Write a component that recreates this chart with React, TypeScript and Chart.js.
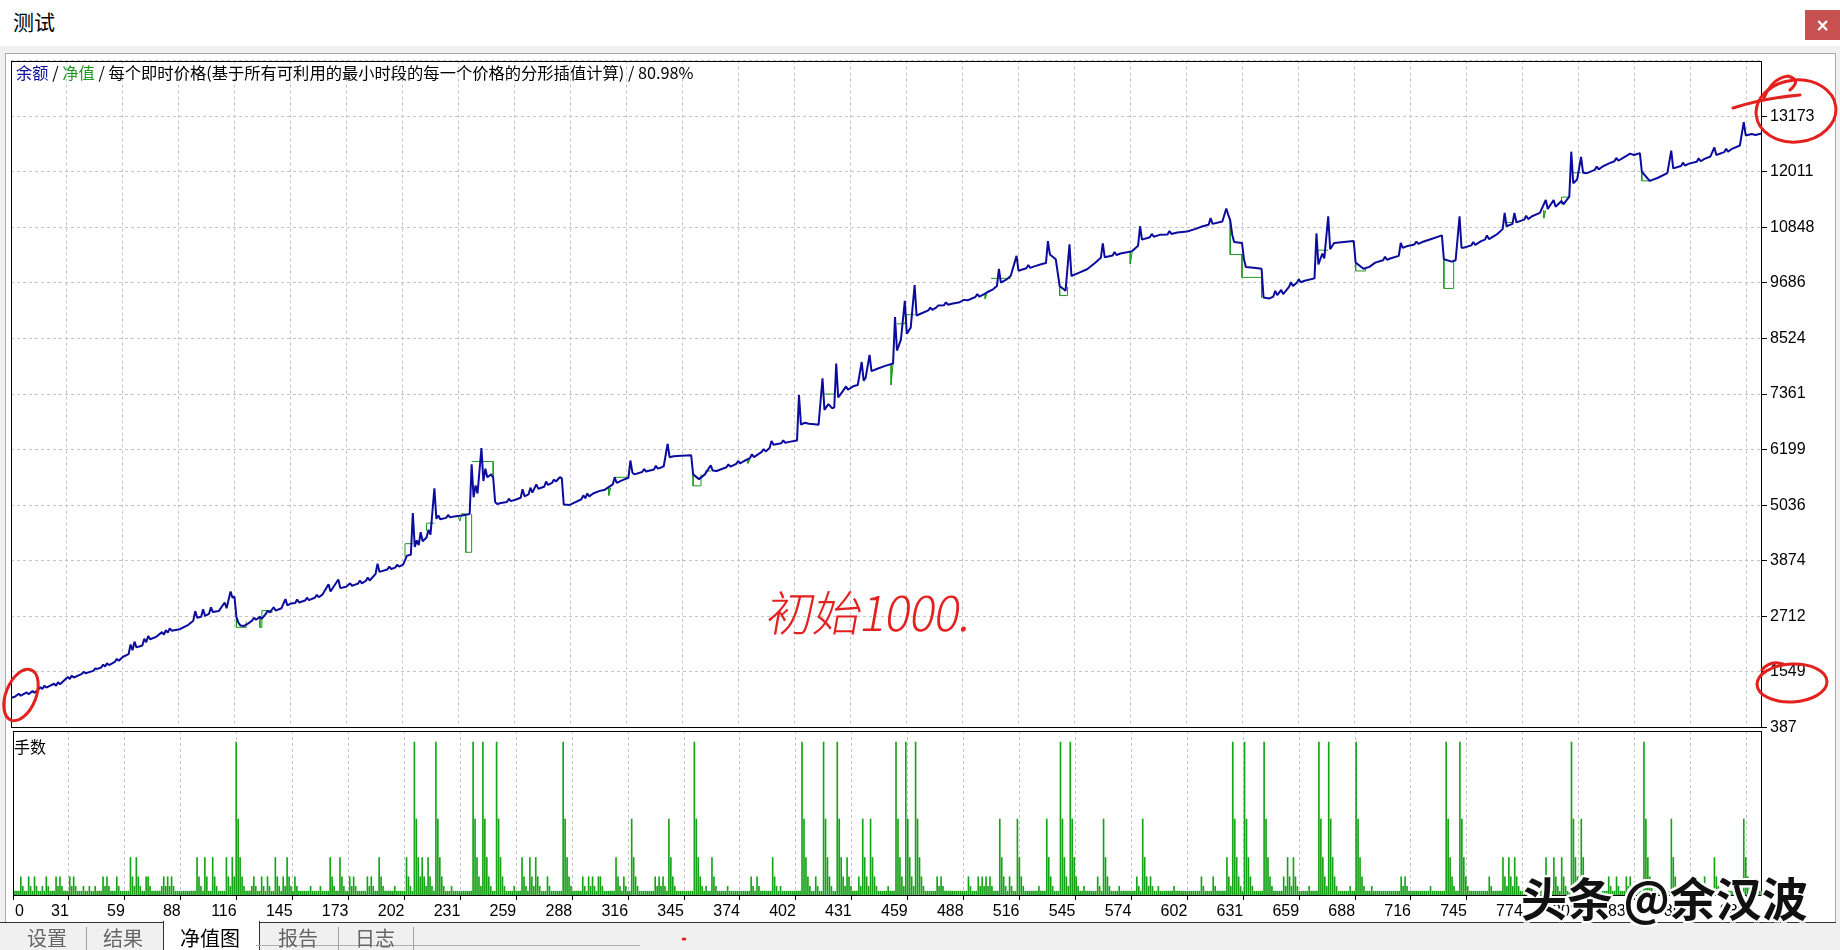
import React, { useEffect, useRef } from "react";
import { Chart, registerables } from "chart.js";

Chart.register(...registerables);

// ---------------- data ----------------
const xTickLabels = ["0", "31", "59", "88", "116", "145", "173", "202", "231", "259", "288", "316", "345", "374", "402", "431", "459", "488", "516", "545", "574", "602", "631", "659", "688", "716", "745", "774", "802", "831", "859", "888"];
const yTickLabels = ["387", "1549", "2712", "3874", "5036", "6199", "7361", "8524", "9686", "10848", "12011", "13173"];

// balance (余额) : [trade index, value]
const balanceA: [number, number][] = [
  [0, 1009], [2, 1030], [4, 1090], [5, 1050], [8, 1120], [9, 1080], [11, 1150], [12, 1110], [14, 1180], [15, 1230], [16, 1190], [17, 1260], [18, 1220], [22, 1300], [23, 1260], [24, 1330], [25, 1290], [29, 1440], [30, 1400], [31, 1470], [32, 1430], [36, 1500], [37, 1550], [38, 1520], [42, 1570], [43, 1620], [44, 1610], [46, 1640], [47, 1700], [48, 1660], [49, 1730], [50, 1690], [53, 1760], [54, 1820], [55, 1780], [57, 1860], [60, 1920], [61, 2120], [62, 2000], [63, 2180], [64, 2060], [67, 2100], [68, 2240], [69, 2170], [70, 2300], [71, 2230], [74, 2280], [77, 2380], [78, 2330], [79, 2420], [80, 2370], [81, 2460], [82, 2410], [86, 2440], [90, 2520], [93, 2620], [94, 2820], [95, 2680], [97, 2700], [98, 2860], [99, 2720], [101, 2760], [102, 2900], [103, 2800], [106, 2820], [109, 3000], [110, 2880], [112, 3230], [113, 3100], [114, 3120], [115, 2700], [116, 2580], [117, 2520], [119, 2510], [121, 2560], [123, 2620], [124, 2680], [125, 2640], [127, 2700], [128, 2660], [130, 2760], [131, 2830], [132, 2790], [134, 2900], [135, 2830], [138, 2880], [140, 3070], [141, 2940], [143, 2980], [145, 2990], [146, 3060], [147, 3000], [150, 3040], [151, 3100], [152, 3050], [155, 3100], [156, 3160], [157, 3110], [159, 3170], [162, 3380], [163, 3230], [167, 3480], [168, 3300], [171, 3330], [173, 3400], [174, 3350], [176, 3380], [177, 3390], [178, 3460], [179, 3400], [181, 3450], [182, 3520], [183, 3460], [186, 3600], [187, 3810], [188, 3640], [192, 3690], [193, 3750], [194, 3700], [196, 3730], [197, 3790], [198, 3750], [200, 3790],
];
const balanceB: [number, number][] = [
  [201, 3880], [202, 3980], [204, 4000], [205, 4870], [206, 4160], [207, 4300], [208, 4200], [209, 4470], [210, 4280], [212, 4360], [213, 4520], [214, 4420], [216, 5390], [217, 4750], [218, 4820], [219, 4740], [222, 4770], [223, 4830], [224, 4780], [226, 4800], [230, 4820], [234, 4850], [235, 5890], [236, 5200], [237, 5450], [238, 5280], [240, 6230], [241, 5540], [242, 5800], [243, 5620], [245, 5680], [246, 5610], [247, 5100], [248, 5060], [250, 5080], [253, 5100], [254, 5170], [255, 5120], [258, 5160], [260, 5190], [261, 5370], [262, 5220], [264, 5260], [265, 5400], [266, 5300], [268, 5470], [269, 5380], [272, 5420], [273, 5530], [274, 5460], [276, 5500], [277, 5570], [278, 5530], [280, 5620], [281, 5600], [282, 5050], [285, 5040], [288, 5100], [291, 5160], [292, 5240], [293, 5180], [294, 5280], [295, 5220], [297, 5280], [300, 5330],
];
const balanceC: [number, number][] = [
  [303, 5360], [307, 5470], [308, 5620], [309, 5500], [312, 5560], [315, 5610], [316, 5970], [317, 5720], [318, 5680], [322, 5730], [323, 5790], [324, 5740], [326, 5760], [328, 5780], [329, 5860], [330, 5800], [332, 5830], [333, 5850], [335, 6320], [336, 6040], [338, 6060], [342, 6070], [347, 6080], [348, 5680], [351, 5580], [354, 5680], [357, 5870], [358, 5760], [360, 5750], [365, 5830], [366, 5890], [367, 5840], [370, 5900], [371, 5960], [372, 5910], [374, 5960], [377, 6020], [378, 6100], [379, 6040], [383, 6150], [384, 6210], [385, 6160], [387, 6230], [388, 6380], [389, 6300], [393, 6330], [394, 6390], [395, 6340], [397, 6360], [401, 6390], [402, 7340], [403, 6720], [405, 6760], [407, 6740], [410, 6730], [412, 6720], [414, 7690], [415, 7030], [417, 7150], [419, 7060], [420, 7080], [421, 8000], [422, 7290], [424, 7400], [426, 7520], [427, 7450], [430, 7530], [432, 7550], [434, 8030], [435, 7640], [436, 7700], [438, 8180], [439, 7840], [442, 7890], [446, 7950], [450, 8000], [451, 8970], [452, 8270], [454, 8500], [456, 9310], [457, 8620], [459, 8750], [461, 9640], [462, 9000], [464, 9040], [468, 9110], [469, 9170], [470, 9120], [472, 9170], [473, 9210], [476, 9220], [477, 9280], [478, 9230], [480, 9250], [484, 9280], [486, 9330], [488, 9320], [492, 9390], [493, 9450], [494, 9400], [496, 9440], [498, 9490], [501, 9550], [503, 9620], [504, 9980], [505, 9690], [508, 9760], [510, 9830], [513, 10250], [514, 9940], [518, 9990], [519, 10060], [520, 10000], [522, 10030], [526, 10080], [528, 10100], [529, 10560], [530, 10280], [533, 10180], [535, 9620], [538, 9520], [540, 10490], [541, 9830], [545, 9900], [549, 9970], [553, 10100], [556, 10210], [557, 10510], [558, 10220], [562, 10260], [563, 10330], [564, 10270], [566, 10300], [570, 10330], [572, 10350], [575, 10460], [576, 10870], [577, 10590], [581, 10640], [582, 10710], [583, 10650], [586, 10690], [590, 10700], [591, 10770], [592, 10710], [595, 10740], [600, 10760],
];
const balanceD: [number, number][] = [
  [604, 10810], [608, 10870], [611, 10900], [612, 11040], [613, 10920], [618, 10970], [620, 11240], [621, 11110], [622, 11000], [623, 10700], [624, 10540], [628, 10520], [629, 10180], [630, 10020], [634, 10000], [638, 9980], [639, 9380], [642, 9360], [644, 9400], [645, 9520], [646, 9430], [648, 9540], [649, 9450], [652, 9600], [653, 9700], [654, 9620], [656, 9690], [657, 9760], [658, 9700], [660, 9730], [665, 9780], [666, 10720], [667, 10070], [669, 10300], [670, 10200], [672, 11080], [673, 10390], [675, 10520], [680, 10540], [685, 10560], [686, 10110], [690, 9980], [693, 10020], [696, 10110], [700, 10160], [701, 10230], [702, 10170], [704, 10200], [708, 10250], [709, 10520], [710, 10420], [712, 10450], [716, 10490], [717, 10550], [718, 10500], [720, 10540], [725, 10610], [730, 10680], [731, 10180], [735, 10130], [737, 10160], [739, 11080], [740, 10420], [741, 10420], [745, 10470], [746, 10540], [747, 10480], [750, 10560], [752, 10590], [753, 10680], [754, 10600], [758, 10700], [761, 10810], [762, 11150], [763, 10870], [766, 10920], [767, 11150], [768, 10950], [772, 11010], [773, 11090], [774, 11020], [776, 11080], [780, 11150], [783, 11420], [784, 11230], [787, 11420], [788, 11280], [791, 11400], [792, 11330], [795, 11490], [796, 12430], [797, 11770], [799, 11850], [801, 12320], [802, 11990], [804, 11980], [808, 12050], [809, 12120], [810, 12060], [812, 12120], [815, 12180], [818, 12230], [819, 12300], [820, 12240], [822, 12290], [826, 12390], [828, 12360], [831, 12400], [832, 12010], [836, 11820], [840, 11880], [845, 11980], [847, 12450], [848, 12080], [852, 12130], [853, 12200], [854, 12140], [856, 12180], [860, 12220], [861, 12290], [862, 12230], [864, 12280], [867, 12330], [869, 12520], [870, 12360], [874, 12420], [875, 12490], [876, 12430], [878, 12490], [882, 12560], [884, 13050], [885, 12770], [888, 12800], [890, 12780], [893, 12810],
];

// equity (净值): only the stretches where it departs from the balance
const equitySegments: [number, number][][] = [
  [[115, 2720], [115, 2480], [120, 2480], [120, 2600]],
  [[127, 2690], [127, 2480], [128, 2480], [128, 2660]],
  [[128, 2700], [128, 2830], [133, 2830], [133, 2790]],
  [[201, 3950], [201, 4230], [205, 4230]],
  [[212, 4500], [212, 4660], [216, 4660]],
  [[228, 4830], [229, 4700], [230, 4860], [232, 4850], [232, 4050], [235, 4050], [235, 4850]],
  [[235, 5950], [246, 5950], [246, 5610]],
  [[305, 5400], [305, 5240], [306, 5400]],
  [[308, 5620], [315, 5620]],
  [[348, 5680], [348, 5440], [352, 5440], [352, 5680]],
  [[354, 5750], [357, 5750]],
  [[376, 5990], [376, 5910], [377, 6000]],
  [[415, 7360], [420, 7360]],
  [[449, 7990], [449, 7550], [450, 7990]],
  [[452, 8830], [456, 8830], [457, 9020], [461, 9020]],
  [[497, 9470], [497, 9350], [498, 9480]],
  [[500, 9780], [510, 9780]],
  [[535, 9620], [535, 9420], [539, 9420], [539, 9600]],
  [[571, 10340], [571, 10080], [572, 10340]],
  [[622, 11000], [622, 10280], [628, 10280], [628, 9800], [638, 9800], [638, 9380]],
  [[666, 10370], [672, 10370]],
  [[686, 10110], [686, 9935], [691, 9935], [691, 9990]],
  [[731, 10180], [731, 9570], [736, 9570], [736, 10140]],
  [[762, 10950], [766, 10950]],
  [[782, 11200], [782, 11040], [783, 11200]],
  [[791, 11330], [791, 11480], [795, 11480]],
  [[797, 11990], [801, 11990]],
  [[832, 12010], [832, 11820], [837, 11820]],
];

// lots (手数): one code per trade, code -> lot size
const lotSizes = [0, 0.01, 0.02, 0.04, 0.08, 0.16, 0.32];
const lots000 = ["1111321132", "1321121321", "1132321113", "2321112112", "1121113232", "1113211111", "4324321133", "2111112323", "2321111111", "1111432143"].join("");
const lots100 = ["1143211114", "3243654321", "1123211321", "3211432132", "4321321111", "1121111211", "1143211432", "1132321111", "1323211432", "1111121111"].join("");
const lots200 = ["1432165434", "3243216543", "2111211111", "1111165432", "6543211654", "3211112111", "4321432432", "1113211111", "1654321111", "1321323213"].join("");
const lots300 = ["3211111143", "2132115432", "1111111132", "3232154321", "1111111165", "4321211432", "1111121111", "1111111321", "3211111143", "2121111111"].join("");
const lots400 = ["1116543211", "3211654321", "1654324321", "1132543254", "3211111211", "1654326543", "2654321111", "1132321111", "1111111132", "1113232323"].join("");
const lots500 = ["2111543213", "2115432111", "1111211154", "3211165432", "6543211211", "1111321543", "2111121111", "1111321543", "2321121111", "1112111111"].join("");
const lots600 = ["1111111321", "1113211111", "4326543216", "5432111116", "5432111113", "2432432111", "1121111654", "3265432111", "1112116543", "2111211111"].join("");
const lots700 = ["1111111113", "2321111111", "1111211111", "1165432116", "5432111111", "1111321111", "1432432432", "1111111111", "1114321432", "1432116543"].join("");
const lots800 = ["2543211111", "1111132113", "2111323211", "1116543211", "1111111543", "2111211111", "1111321114", "3211111111", "1111543211", "1111"].join("");

// ---------------- scale constants ----------------
const X_MAX = 893.3;
const X_STEP = 28.56;
const Y_MIN = 387;
const Y_STEP = 1162.36;
const Y_DIVS = 12;
const LOT_MAX = 0.343;

// ---------------- styles ----------------
const BLUE = "#0B0B9E";
const GREEN = "#1E9A1E";
const BAR_GREEN = "#17A317";
const GRID = "#C4C4C4";
const RED = "#E3221F";
const CJK = "'Noto Sans CJK SC', 'Noto Sans', sans-serif";
const TICK_FONT = { family: "'Liberation Sans', Arial, sans-serif", size: 16 };

const balanceData = [...balanceA, ...balanceB, ...balanceC, ...balanceD].map(([x, y]) => ({ x, y }));
const equityData = equitySegments.flatMap((seg) => [
  ...seg.map(([x, y]) => ({ x, y } as { x: number; y: number | null })),
  { x: seg[seg.length - 1][0], y: null },
]);
const lotsData = Array.from(lots000 + lots100 + lots200 + lots300 + lots400 + lots500 + lots600 + lots700 + lots800, (c, i) => ({ x: i, y: lotSizes[Number(c)] }));

const framePlugin = {
  id: "frame",
  afterDraw(chart: any) {
    const { ctx, chartArea: a } = chart;
    ctx.save();
    ctx.strokeStyle = "#000";
    ctx.lineWidth = 1;
    ctx.setLineDash([]);
    ctx.strokeRect(Math.round(a.left) + 0.5, Math.round(a.top) + 0.5, Math.round(a.right - a.left) - 1, Math.round(a.bottom - a.top) - 1);
    ctx.restore();
  },
};

const zeroLabelPlugin = {
  id: "zeroLabel",
  afterDraw(chart: any) {
    const { ctx, chartArea: a } = chart;
    ctx.save();
    ctx.font = `${TICK_FONT.size}px ${TICK_FONT.family}`;
    ctx.fillStyle = "#000";
    ctx.textAlign = "left";
    ctx.textBaseline = "middle";
    ctx.fillText(xTickLabels[0], a.left + 2, a.bottom + 6 + (TICK_FONT.size * 1.2) / 2);
    ctx.restore();
  },
};

const xTicksBuilder = (s: any) => {
  s.ticks = xTickLabels.map((_, i) => ({ value: i * X_STEP }));
};

export default function App() {
  const mainRef = useRef<HTMLCanvasElement>(null);
  const lotsRef = useRef<HTMLCanvasElement>(null);

  useEffect(() => {
    const main = new Chart(mainRef.current as HTMLCanvasElement, {
      type: "line",
      data: {
        datasets: [
          { label: "余额", data: balanceData, borderColor: BLUE, borderWidth: 2, pointRadius: 0, tension: 0, borderJoinStyle: "bevel", order: 0 } as any,
          { label: "净值", data: equityData, borderColor: GREEN, borderWidth: 1, pointRadius: 0, tension: 0, spanGaps: false, order: 1 } as any,
        ],
      },
      options: {
        animation: false,
        responsive: false,
        devicePixelRatio: 1,
        events: [],
        layout: { padding: { top: 10, bottom: 10, left: 0, right: 0 } },
        plugins: { legend: { display: false }, tooltip: { enabled: false } },
        scales: {
          x: {
            type: "linear",
            min: 0,
            max: X_MAX,
            offset: false,
            afterBuildTicks: xTicksBuilder,
            afterFit: (s: any) => { s.height = 0; },
            ticks: { display: false },
            grid: { color: GRID, drawTicks: false },
            border: { display: false, dash: [3, 3] },
          },
          y: {
            type: "linear",
            position: "right",
            min: Y_MIN,
            max: Y_MIN + Y_DIVS * Y_STEP,
            afterBuildTicks: (s: any) => {
              s.ticks = Array.from({ length: Y_DIVS + 1 }, (_, i) => ({ value: Y_MIN + i * Y_STEP }));
            },
            afterFit: (s: any) => { s.width = 78; },
            ticks: { autoSkip: false, color: "#000", font: TICK_FONT, padding: 3, callback: (_v: any, i: number) => yTickLabels[i] ?? "" },
            grid: {
              color: GRID,
              tickColor: (c: any) => (c.index === Y_DIVS ? "rgba(0,0,0,0)" : "#000"),
              tickLength: 5,
              tickBorderDash: [],
            },
            border: { display: false, dash: [3, 3] },
          },
        },
      } as any,
      plugins: [framePlugin],
    });

    const lots = new Chart(lotsRef.current as HTMLCanvasElement, {
      type: "bar",
      data: {
        datasets: [
          { label: "手数", data: lotsData, backgroundColor: BAR_GREEN, borderWidth: 0, barThickness: 1, grouped: false } as any,
        ],
      },
      options: {
        animation: false,
        responsive: false,
        devicePixelRatio: 1,
        events: [],
        layout: { padding: { top: 10, bottom: 0, left: 0, right: 0 } },
        plugins: { legend: { display: false }, tooltip: { enabled: false } },
        scales: {
          x: {
            type: "linear",
            min: 0,
            max: X_MAX,
            offset: false,
            afterBuildTicks: xTicksBuilder,
            afterFit: (s: any) => { s.height = 30; },
            ticks: {
              autoSkip: false,
              maxRotation: 0,
              minRotation: 0,
              align: "end",
              color: "#000",
              font: TICK_FONT,
              padding: 2,
              callback: (_v: any, i: number) => (i === 0 ? "" : xTickLabels[i]),
            },
            grid: { color: GRID, offset: false, tickColor: "#000", tickLength: 4, tickBorderDash: [] },
            border: { display: false, dash: [3, 3] },
          },
          y: {
            type: "linear",
            position: "right",
            min: 0,
            max: LOT_MAX,
            afterFit: (s: any) => { s.width = 78; },
            ticks: { display: false },
            grid: { display: false },
            border: { display: false },
          },
        },
      } as any,
      plugins: [framePlugin, zeroLabelPlugin],
    });

    return () => {
      main.destroy();
      lots.destroy();
    };
  }, []);

  const abs = (o: React.CSSProperties): React.CSSProperties => ({ position: "absolute", ...o });

  return (
    <div style={{ position: "fixed", left: 0, top: 0, width: 1840, height: 950, background: "#F0F0F0", overflow: "hidden", fontFamily: CJK }}>
      {/* window title bar */}
      <div style={abs({ left: 0, top: 0, width: 1840, height: 46, background: "#fff" })} />
      <div style={abs({ left: 13, top: 9, fontSize: 21, lineHeight: "24px", color: "#000" })}>测试</div>
      <div style={abs({ left: 1805, top: 10, width: 35, height: 30, background: "#C75050", color: "#fff", fontSize: 17, lineHeight: "30px", textAlign: "center", fontFamily: "'DejaVu Sans', sans-serif", fontWeight: 700 })}>×</div>

      {/* chart window */}
      <div style={abs({ left: 5, top: 53, width: 1829, height: 869, background: "#fff", borderTop: "1px solid #ABABAB", borderLeft: "1px solid #ABABAB", borderRight: "1px solid #ABABAB" })} />

      <canvas ref={mainRef} width={1829} height={692} style={abs({ left: 11, top: 48, width: 1829, height: 692 })} />
      <canvas ref={lotsRef} width={1829} height={205} style={abs({ left: 11, top: 721, width: 1829, height: 205 })} />

      <div style={abs({ left: 16, top: 63, fontSize: 16.3, lineHeight: "18px", whiteSpace: "nowrap", color: "#000" })}>
        <span style={{ color: BLUE }}>余额</span> / <span style={{ color: GREEN }}>净值</span> / 每个即时价格(基于所有可利用的最小时段的每一个价格的分形插值计算) / 80.98%
      </div>
      <div style={abs({ left: 14, top: 737, fontSize: 16, lineHeight: "18px", color: "#000" })}>手数</div>

      {/* tabs */}
      <div style={abs({ left: 0, top: 922, width: 163, height: 1, background: "#333" })} />
      <div style={abs({ left: 259, top: 922, width: 1577, height: 1, background: "#333" })} />
      <div style={abs({ left: 163, top: 921, width: 95, height: 29, background: "#fff", borderLeft: "1px solid #333", borderRight: "1px solid #333" })} />
      <div style={abs({ left: 86, top: 927, width: 1, height: 23, background: "#A0A0A0" })} />
      <div style={abs({ left: 338, top: 927, width: 1, height: 23, background: "#A0A0A0" })} />
      <div style={abs({ left: 413, top: 927, width: 1, height: 23, background: "#A0A0A0" })} />
      <div style={abs({ left: 256, top: 945, width: 384, height: 1, background: "#B0B0B0" })} />
      {[
        ["设置", 27, "#666"],
        ["结果", 103, "#666"],
        ["净值图", 180, "#000"],
        ["报告", 278, "#666"],
        ["日志", 355, "#666"],
      ].map(([t, l, c]) => (
        <div key={t as string} style={abs({ left: l as number, top: 926, fontSize: 20, lineHeight: "24px", color: c as string, whiteSpace: "nowrap" })}>{t}</div>
      ))}

      {/* hand-written annotations */}
      <svg width={1840} height={950} style={abs({ left: 0, top: 0, pointerEvents: "none" })}>
        <g fill="none" stroke={RED} strokeWidth={3} strokeLinecap="round">
          <ellipse cx={1796} cy={111} rx={40} ry={31} transform="rotate(-6 1796 111)" />
          <path d="M1733 108 Q1765 98 1800 95" />
          <path d="M1790 90 Q1802 80 1788 76 Q1772 78 1764 98" />
          <ellipse cx={1792} cy={683} rx={35} ry={19} transform="rotate(-3 1792 683)" />
          <path d="M1762 670 Q1770 660 1783 664" />
          <ellipse cx={21} cy={695} rx={15} ry={27} transform="rotate(22 21 695)" />
        </g>
        <ellipse cx={684} cy={939} rx={2.5} ry={1.5} fill={RED} />
      </svg>
      <div style={abs({ left: 768, top: 580, fontSize: 48, lineHeight: "60px", color: RED, fontWeight: 300, transform: "skewX(-10deg)", letterSpacing: -1, whiteSpace: "nowrap" })}>初始1000.</div>

      {/* watermark */}
      <div
        style={abs({
          left: 1521,
          top: 870,
          fontSize: 46,
          lineHeight: "52px",
          fontWeight: 700,
          color: "#111",
          whiteSpace: "nowrap",
          textShadow: "2px 0 0 #fff, -2px 0 0 #fff, 0 2px 0 #fff, 0 -2px 0 #fff, 2px 2px 0 #fff, -2px -2px 0 #fff, 2px -2px 0 #fff, -2px 2px 0 #fff",
        })}
      >
        头条 @余汉波
      </div>
    </div>
  );
}
